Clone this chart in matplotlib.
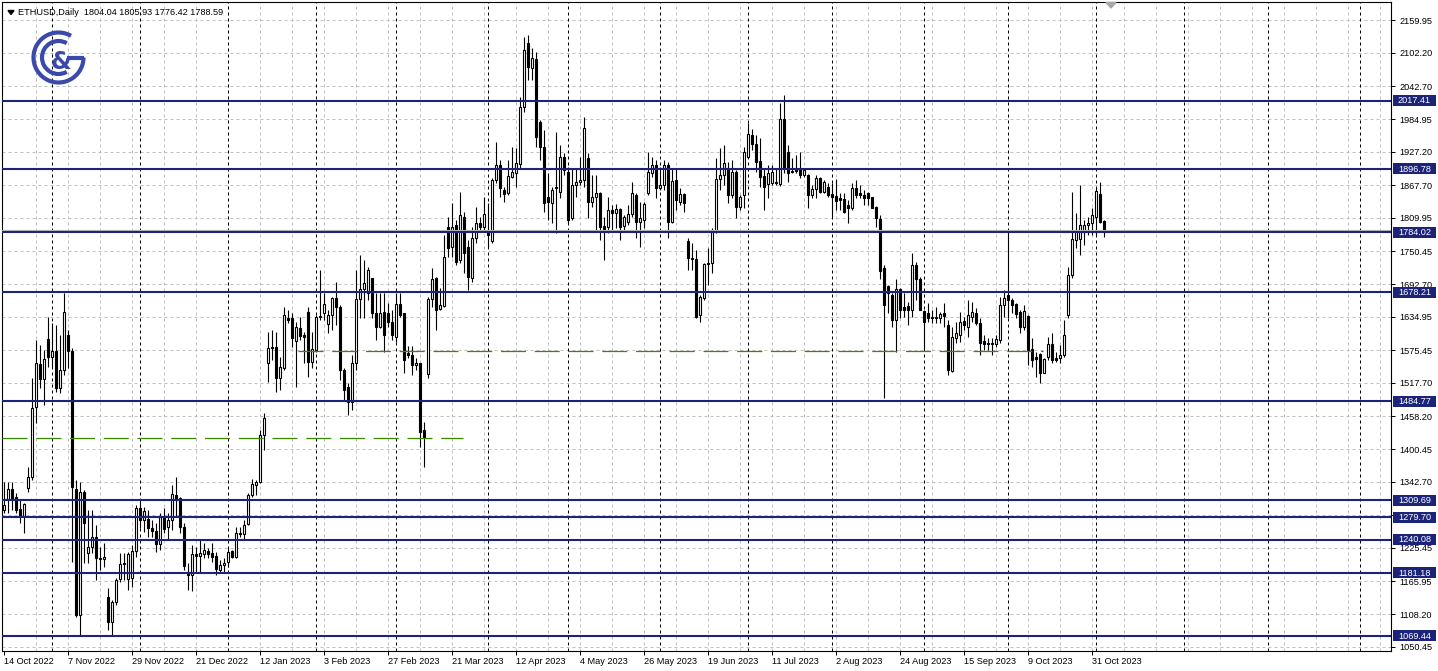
import numpy as np
import pandas as pd
import matplotlib
matplotlib.use("Agg")
import matplotlib.pyplot as plt
from matplotlib.patches import Rectangle, Arc, Polygon

plt.rcParams["font.family"] = ["Liberation Sans", "DejaVu Sans"]

W, H, DPI = 1438, 671, 100

header_text = "ETHUSD,Daily  1804.04 1805.93 1776.42 1788.59"

# daily candles (weekdays only), first bar = 14 Oct 2022
opens = [
    1292.5, 1310.3, 1329.7, 1315.6, 1294.3, 1281.9, 1331.5, 1351.1, 1475.0, 1551.1,
    1524.6, 1595.4, 1563.5, 1574.1, 1508.7, 1540.5, 1602.5, 1574.1, 1329.7, 1106.6,
    1324.4, 1216.4, 1227.0, 1244.7, 1207.5, 1205.7, 1138.4, 1094.2, 1129.6, 1170.4,
    1198.7, 1170.4, 1172.1, 1219.9, 1296.1, 1274.8, 1276.6, 1260.7, 1255.3, 1232.3,
    1280.1, 1262.4, 1274.8, 1319.1, 1313.8, 1262.4, 1182.7, 1177.4, 1214.6, 1211.1,
    1214.6, 1219.9, 1216.4, 1211.1, 1186.3, 1195.1, 1200.4, 1219.9, 1209.3, 1250.0,
    1250.0, 1267.7, 1319.1, 1336.8, 1342.1, 1425.4, 1552.9, 1581.2, 1581.2, 1526.4,
    1544.0, 1632.6, 1632.6, 1591.8, 1614.9, 1602.5, 1643.2, 1554.7, 1575.9, 1634.4,
    1641.5, 1622.0, 1637.9, 1668.0, 1652.1, 1540.5, 1510.4, 1483.9, 1552.9, 1666.2,
    1683.9, 1676.8, 1703.4, 1641.5, 1616.6, 1643.2, 1641.5, 1625.5, 1598.9, 1657.4,
    1641.5, 1570.6, 1567.0, 1549.3, 1552.9, 1434.2, 1533.4, 1666.2, 1703.4, 1648.5,
    1653.8, 1793.7, 1758.3, 1797.3, 1735.3, 1811.4, 1758.3, 1703.4, 1774.3, 1800.8,
    1793.7, 1788.4, 1768.9, 1877.0, 1903.5, 1859.2, 1853.9, 1882.3, 1889.4, 1905.3,
    2006.3, 2119.6, 2075.3, 2091.3, 1979.7, 1935.4, 1846.8, 1836.2, 1862.8, 1855.7,
    1917.7, 1891.1, 1809.7, 1868.1, 1873.4, 1877.0, 1915.9, 1838.0, 1846.8, 1853.9,
    1795.5, 1793.7, 1823.8, 1818.5, 1825.6, 1795.5, 1802.6, 1816.7, 1850.4, 1802.6,
    1806.1, 1853.9, 1889.4, 1903.5, 1862.8, 1868.1, 1903.5, 1802.6, 1877.0, 1838.0,
    1852.2, 1768.9, 1737.1, 1737.1, 1637.9, 1668.0, 1728.2, 1730.0, 1784.9, 1878.7,
    1885.8, 1898.2, 1850.4, 1891.1, 1829.1, 1850.4, 1917.7, 1956.7, 1940.7, 1910.6,
    1884.1, 1869.9, 1871.6, 1873.4, 1869.9, 1985.0, 1926.6, 1891.1, 1898.2, 1896.5,
    1885.8, 1885.8, 1850.4, 1861.0, 1880.5, 1855.7, 1864.6, 1852.2, 1848.6, 1845.1,
    1843.3, 1832.7, 1827.4, 1862.8, 1853.9, 1850.4, 1853.9, 1846.8, 1829.1, 1807.9,
    1721.1, 1689.2, 1673.3, 1629.0, 1683.9, 1652.1, 1653.8, 1646.7, 1726.4, 1701.6,
    1645.0, 1641.5, 1634.4, 1634.4, 1632.6, 1641.5, 1620.2, 1538.7, 1597.2, 1602.5,
    1627.3, 1616.6, 1634.4, 1641.5, 1623.7, 1591.8, 1588.3, 1586.5, 1586.5, 1593.6,
    1655.6, 1673.3, 1664.5, 1657.4, 1643.2, 1616.6, 1636.1, 1577.7, 1563.5, 1568.8,
    1535.2, 1563.5, 1586.5, 1561.7, 1561.7, 1567.0, 1637.9, 1708.7, 1770.7, 1772.5,
    1784.9, 1797.3, 1800.8, 1811.4, 1852.2, 1804.04,
]
highs = [
    1342.1, 1342.1, 1342.1, 1322.6, 1310.3, 1304.9, 1368.7, 1526.4, 1593.6, 1584.7,
    1575.9, 1634.4, 1623.7, 1620.2, 1602.5, 1676.8, 1611.3, 1579.5, 1345.7, 1342.1,
    1327.9, 1292.5, 1292.5, 1266.0, 1227.0, 1234.1, 1154.4, 1133.2, 1172.1, 1216.4,
    1216.4, 1218.2, 1230.6, 1301.4, 1310.3, 1297.8, 1292.5, 1274.8, 1269.5, 1287.2,
    1296.1, 1287.2, 1336.8, 1351.1, 1315.6, 1269.5, 1198.7, 1230.6, 1227.0, 1239.4,
    1234.1, 1225.3, 1234.1, 1218.2, 1204.0, 1207.5, 1225.3, 1221.7, 1262.4, 1262.4,
    1274.8, 1322.6, 1347.4, 1345.7, 1434.2, 1464.3, 1607.8, 1611.3, 1607.8, 1563.5,
    1652.1, 1646.7, 1641.5, 1625.5, 1634.4, 1607.8, 1652.1, 1607.8, 1637.9, 1717.6,
    1676.8, 1646.7, 1669.8, 1696.3, 1655.6, 1544.0, 1517.5, 1567.0, 1717.6, 1744.2,
    1735.3, 1722.9, 1703.4, 1676.8, 1676.8, 1676.8, 1659.1, 1646.7, 1676.8, 1676.8,
    1641.5, 1583.0, 1583.0, 1561.7, 1552.9, 1448.4, 1669.8, 1721.1, 1705.2, 1685.7,
    1779.6, 1811.4, 1836.2, 1806.1, 1855.7, 1820.3, 1770.7, 1793.7, 1829.1, 1811.4,
    1846.8, 1836.2, 1880.5, 1944.3, 1912.4, 1864.6, 1912.4, 1935.4, 1933.7, 2024.0,
    2130.2, 2133.7, 2110.7, 2103.7, 1983.2, 1965.5, 1889.4, 1864.6, 1962.0, 1938.9,
    1924.8, 1900.0, 1898.2, 1898.2, 1917.7, 1988.6, 1924.8, 1885.8, 1885.8, 1855.7,
    1811.4, 1846.8, 1832.7, 1834.5, 1827.4, 1815.0, 1832.7, 1873.4, 1853.9, 1838.0,
    1838.0, 1926.6, 1917.7, 1912.4, 1900.0, 1912.4, 1908.9, 1898.2, 1896.5, 1862.8,
    1853.9, 1774.3, 1765.4, 1753.0, 1673.3, 1730.0, 1756.5, 1791.9, 1915.9, 1933.7,
    1938.9, 1908.9, 1912.4, 1894.7, 1850.4, 1935.4, 1977.9, 1967.3, 1956.7, 1951.3,
    1898.2, 1903.5, 1903.5, 1898.2, 2013.3, 2027.5, 1938.9, 1915.9, 1921.3, 1926.6,
    1898.2, 1887.6, 1868.1, 1885.8, 1882.3, 1877.0, 1871.6, 1871.6, 1878.7, 1853.9,
    1853.9, 1841.6, 1871.6, 1877.0, 1868.1, 1859.2, 1855.7, 1846.8, 1830.9, 1815.0,
    1726.4, 1691.0, 1676.8, 1701.6, 1685.7, 1676.8, 1660.9, 1747.7, 1731.7, 1705.2,
    1646.7, 1659.1, 1646.7, 1652.1, 1643.2, 1659.1, 1629.0, 1616.6, 1625.5, 1643.2,
    1634.4, 1664.5, 1660.9, 1650.3, 1632.6, 1602.5, 1597.2, 1597.2, 1602.5, 1669.8,
    1682.2, 1784.9, 1668.0, 1659.1, 1646.7, 1655.6, 1637.9, 1597.2, 1572.4, 1570.6,
    1561.7, 1598.9, 1606.0, 1572.4, 1584.7, 1629.0, 1722.9, 1855.7, 1818.5, 1868.1,
    1806.1, 1811.4, 1827.4, 1862.8, 1873.4, 1805.93,
]
lows = [
    1287.2, 1287.2, 1292.5, 1287.2, 1269.5, 1251.8, 1324.4, 1345.7, 1446.6, 1508.7,
    1478.5, 1545.8, 1545.8, 1501.6, 1499.8, 1531.6, 1544.0, 1200.4, 1103.0, 1071.2,
    1198.7, 1198.7, 1216.4, 1168.6, 1186.3, 1191.6, 1080.0, 1071.2, 1124.3, 1165.0,
    1168.6, 1150.9, 1156.2, 1209.3, 1260.7, 1253.6, 1244.7, 1244.7, 1218.2, 1221.7,
    1251.8, 1239.4, 1257.1, 1280.1, 1251.8, 1186.3, 1150.9, 1149.1, 1182.7, 1182.7,
    1207.5, 1207.5, 1200.4, 1177.4, 1181.0, 1181.0, 1191.6, 1207.5, 1207.5, 1244.7,
    1239.4, 1266.0, 1315.6, 1319.1, 1340.3, 1398.8, 1519.3, 1558.2, 1501.6, 1505.2,
    1540.5, 1623.7, 1581.2, 1510.4, 1593.6, 1552.9, 1528.1, 1544.0, 1572.4, 1629.0,
    1629.0, 1606.0, 1611.3, 1620.2, 1522.8, 1487.4, 1460.8, 1469.7, 1540.5, 1632.6,
    1632.6, 1664.5, 1632.6, 1593.6, 1614.9, 1572.4, 1616.6, 1593.6, 1590.1, 1634.4,
    1535.2, 1561.7, 1531.6, 1540.5, 1404.1, 1368.7, 1526.4, 1652.1, 1611.3, 1646.7,
    1652.1, 1740.6, 1740.6, 1726.4, 1730.0, 1712.3, 1682.2, 1696.3, 1765.4, 1788.4,
    1788.4, 1758.3, 1765.4, 1871.6, 1846.8, 1838.0, 1850.4, 1880.5, 1864.6, 1898.2,
    1997.4, 2054.1, 2054.1, 1935.4, 1912.4, 1820.3, 1806.1, 1800.8, 1783.1, 1845.1,
    1885.8, 1800.8, 1806.1, 1846.8, 1868.1, 1864.6, 1809.7, 1829.1, 1788.4, 1770.7,
    1735.3, 1783.1, 1784.9, 1791.9, 1770.7, 1788.4, 1797.3, 1811.4, 1774.3, 1758.3,
    1791.9, 1850.4, 1882.3, 1845.1, 1859.2, 1859.2, 1774.3, 1800.8, 1823.8, 1832.7,
    1820.3, 1717.6, 1717.6, 1632.6, 1625.5, 1664.5, 1691.0, 1712.3, 1783.1, 1859.2,
    1868.1, 1836.2, 1845.1, 1809.7, 1823.8, 1827.4, 1915.9, 1930.1, 1891.1, 1864.6,
    1823.8, 1845.1, 1868.1, 1868.1, 1866.3, 1889.4, 1873.4, 1889.4, 1889.4, 1880.5,
    1882.3, 1827.4, 1845.1, 1845.1, 1853.9, 1853.9, 1846.8, 1811.4, 1823.8, 1823.8,
    1818.5, 1800.8, 1823.8, 1845.1, 1845.1, 1832.7, 1832.7, 1827.4, 1793.7, 1701.6,
    1490.9, 1641.5, 1616.6, 1572.4, 1632.6, 1634.4, 1620.2, 1634.4, 1664.5, 1646.7,
    1575.9, 1625.5, 1623.7, 1623.7, 1623.7, 1616.6, 1531.6, 1537.0, 1588.3, 1590.1,
    1611.3, 1598.9, 1625.5, 1620.2, 1567.0, 1575.9, 1575.9, 1567.0, 1581.2, 1588.3,
    1634.4, 1632.6, 1641.5, 1632.6, 1606.0, 1611.3, 1549.3, 1545.8, 1528.1, 1517.5,
    1535.2, 1558.2, 1552.9, 1554.7, 1552.9, 1563.5, 1632.6, 1703.4, 1756.5, 1744.2,
    1761.8, 1779.6, 1779.6, 1779.6, 1800.8, 1776.42,
]
closes = [
    1301.4, 1329.7, 1310.3, 1292.5, 1281.9, 1303.2, 1351.1, 1473.2, 1552.9, 1524.6,
    1560.0, 1563.5, 1574.1, 1508.7, 1540.5, 1643.2, 1574.1, 1333.3, 1106.6, 1324.4,
    1269.5, 1227.0, 1244.7, 1207.5, 1205.7, 1209.3, 1094.2, 1129.6, 1168.6, 1196.9,
    1196.9, 1214.6, 1219.9, 1296.1, 1274.8, 1290.8, 1260.7, 1255.3, 1232.3, 1280.1,
    1258.9, 1274.8, 1320.8, 1313.8, 1262.4, 1193.4, 1177.4, 1214.6, 1211.1, 1216.4,
    1221.7, 1214.6, 1209.3, 1188.0, 1195.1, 1198.7, 1218.2, 1209.3, 1251.8, 1251.8,
    1266.0, 1319.1, 1338.6, 1342.1, 1425.4, 1455.5, 1579.5, 1579.5, 1526.4, 1545.8,
    1637.9, 1629.0, 1597.2, 1616.6, 1600.7, 1598.9, 1554.7, 1577.7, 1634.4, 1636.1,
    1657.4, 1637.9, 1668.0, 1652.1, 1540.5, 1505.2, 1483.9, 1552.9, 1666.2, 1683.9,
    1694.6, 1717.6, 1641.5, 1616.6, 1641.5, 1602.5, 1625.5, 1602.5, 1657.4, 1637.9,
    1558.2, 1567.0, 1549.3, 1552.9, 1430.7, 1421.8, 1666.2, 1701.6, 1646.7, 1655.6,
    1740.6, 1756.5, 1793.7, 1731.7, 1815.0, 1747.7, 1705.2, 1774.3, 1800.8, 1793.7,
    1816.7, 1779.6, 1877.0, 1903.5, 1862.8, 1852.2, 1884.1, 1891.1, 1907.1, 2006.3,
    2107.2, 2077.1, 2093.0, 1953.1, 1935.4, 1836.2, 1838.0, 1859.2, 1864.6, 1917.7,
    1894.7, 1806.1, 1868.1, 1873.4, 1877.0, 1969.1, 1838.0, 1846.8, 1853.9, 1793.7,
    1788.4, 1823.8, 1818.5, 1825.6, 1793.7, 1811.4, 1816.7, 1853.9, 1802.6, 1809.7,
    1834.5, 1891.1, 1903.5, 1862.8, 1868.1, 1903.5, 1802.6, 1875.2, 1841.6, 1852.2,
    1836.2, 1738.8, 1738.5, 1634.4, 1669.8, 1728.2, 1730.0, 1784.9, 1878.7, 1885.8,
    1907.1, 1850.4, 1891.1, 1829.1, 1846.8, 1926.6, 1958.4, 1940.7, 1908.9, 1882.3,
    1864.6, 1889.4, 1891.1, 1871.6, 1985.0, 1898.2, 1889.4, 1892.9, 1892.9, 1885.8,
    1894.7, 1850.4, 1861.0, 1880.5, 1855.7, 1873.4, 1850.4, 1846.8, 1839.8, 1841.6,
    1820.3, 1827.4, 1862.8, 1850.4, 1850.4, 1845.1, 1845.1, 1827.4, 1809.7, 1715.8,
    1655.6, 1676.8, 1629.0, 1683.9, 1646.7, 1646.7, 1646.7, 1726.4, 1701.6, 1646.7,
    1625.5, 1632.6, 1632.6, 1632.6, 1639.7, 1636.1, 1540.5, 1598.9, 1606.0, 1625.5,
    1620.2, 1637.9, 1643.2, 1623.7, 1588.3, 1586.5, 1586.5, 1588.3, 1595.4, 1655.6,
    1668.0, 1664.5, 1655.6, 1639.7, 1616.6, 1645.0, 1575.9, 1558.2, 1560.0, 1535.2,
    1560.0, 1586.5, 1558.2, 1558.2, 1567.0, 1602.5, 1708.7, 1772.5, 1784.9, 1797.3,
    1797.3, 1800.8, 1815.0, 1857.5, 1802.6, 1788.59,
]

levels = [2017.41, 1896.78, 1784.02, 1678.21, 1484.77, 1309.69, 1279.70, 1240.08, 1181.18, 1069.44]
green_low = 1420.4       # dashed line, left part of chart
green_mid = 1574.1       # dashed line across the middle
green_low_span = (-0.5, 114.75)
green_mid_span = (73.5, 259.75)
bid_price = 1788.59

price_ticks = [2159.95, 2102.20, 2042.70, 1984.95, 1927.20, 1867.70, 1809.95, 1750.45,
               1692.70, 1634.95, 1575.45, 1517.70, 1458.20, 1400.45, 1342.70, 1283.20,
               1225.45, 1165.95, 1108.20, 1050.45]
date_labels = ["14 Oct 2022", "7 Nov 2022", "29 Nov 2022", "21 Dec 2022", "12 Jan 2023",
               "3 Feb 2023", "27 Feb 2023", "21 Mar 2023", "12 Apr 2023", "4 May 2023",
               "26 May 2023", "19 Jun 2023", "11 Jul 2023", "2 Aug 2023", "24 Aug 2023",
               "15 Sep 2023", "9 Oct 2023", "31 Oct 2023"]

NAVY = "#1b2478"
GREEN = "#3a8a00"
GRID = "#c0c0c0"
LOGO = "#3a4aab"

all_days = pd.bdate_range("2022-10-14", periods=347)
n = len(opens)
idx = np.arange(n)
o, hi, lo, c = map(np.array, (opens, highs, lows, closes))

fig = plt.figure(figsize=(W / DPI, H / DPI), dpi=DPI)
fig.patch.set_facecolor("white")

X0, X1, Y0, Y1 = 2, 1391, 2, 651
PMIN, PMAX = 1042.85, 2192.2
ax = fig.add_axes([X0 / W, 1 - Y1 / H, (X1 - X0) / W, (Y1 - Y0) / H])
ax.set_xlim(-0.5, 346.75)
ax.set_ylim(PMIN, PMAX)

# grid
for g in range(8, 347, 8):
    ax.axvline(g, color=GRID, lw=0.72, ls=(0, (3, 3)), zorder=0.5)
for p in price_ticks:
    ax.axhline(p, color=GRID, lw=0.72, ls=(0, (3, 3)), zorder=0.5)

# month separators
month_starts = [i for i in range(1, len(all_days)) if all_days[i].month != all_days[i - 1].month]
for m in month_starts:
    ax.axvline(m, color="black", lw=0.72, ls=(0, (3, 3)), zorder=0.6)

# candles
ax.vlines(idx, lo, hi, color="black", lw=0.8, zorder=2)
up = c >= o
ax.bar(idx, np.abs(c - o), bottom=np.minimum(o, c), width=0.5,
       color=np.where(up, "white", "black"), edgecolor="black", linewidth=0.8, zorder=3)

# objects
ax.axhline(bid_price, color="#b8b8b8", lw=0.8, zorder=3.5)
for lv in levels:
    ax.axhline(lv, color=NAVY, lw=1.5, zorder=4)
ax.plot(green_low_span, [green_low, green_low], color=GREEN, lw=0.9, ls=(0, (20, 7)), zorder=4)
ax.plot(green_mid_span, [green_mid, green_mid], color=GREEN, lw=0.9, ls=(0, (20, 7)), zorder=4)

# axes styling
for s in ax.spines.values():
    s.set_linewidth(0.8)
    s.set_color("black")
ax.yaxis.tick_right()
ax.set_yticks(price_ticks, labels=[f"{v:.2f}" for v in price_ticks])
ax.tick_params(axis="y", length=3, width=0.72, pad=3, labelsize=6.6)
label_pos = [all_days.get_loc(pd.Timestamp(d)) for d in date_labels]
ax.set_xticks(label_pos, labels=date_labels)
ax.tick_params(axis="x", length=3, width=0.72, pad=1.5, labelsize=6.6)
for t in ax.get_xticklabels():
    t.set_ha("left")

# pixel overlay for labels, header and logo
ov = fig.add_axes([0, 0, 1, 1], zorder=5)
ov.set_xlim(0, W)
ov.set_ylim(H, 0)
ov.axis("off")
ov.patch.set_alpha(0)


def to_px(p):
    return Y0 + (PMAX - p) / (PMAX - PMIN) * (Y1 - Y0)


for lv in levels:
    y = to_px(lv)
    ov.add_patch(Rectangle((1393, y - 5.5), 43, 11, facecolor=NAVY, edgecolor="none"))
    ov.text(1414.5, y + 0.3, f"{lv:.2f}", color="white", ha="center", va="center", fontsize=6.6)

ov.add_patch(Polygon([(8, 10.5), (14, 10.5), (11, 14.5)], closed=True, color="black"))
ov.text(18, 12.5, header_text, fontsize=6.6, va="center", ha="left")
ov.add_patch(Polygon([(1106, 2.5), (1116, 2.5), (1111, 8)], closed=True, color="#a8a8a8"))

# logo
ov.add_patch(Arc((58.5, 57.5), 50, 50, theta1=0, theta2=300, color=LOGO, lw=3))
ov.add_patch(Arc((58.5, 57.5), 33, 33, theta1=60, theta2=300, color=LOGO, lw=3))
ov.plot([67, 83.5], [57.5, 57.5], color=LOGO, lw=3, solid_capstyle="butt")
ov.text(61, 62, "&", color=LOGO, fontsize=17, fontweight="bold", ha="center", va="center",
        family="DejaVu Sans")

fig.savefig("out.png", dpi=DPI)
